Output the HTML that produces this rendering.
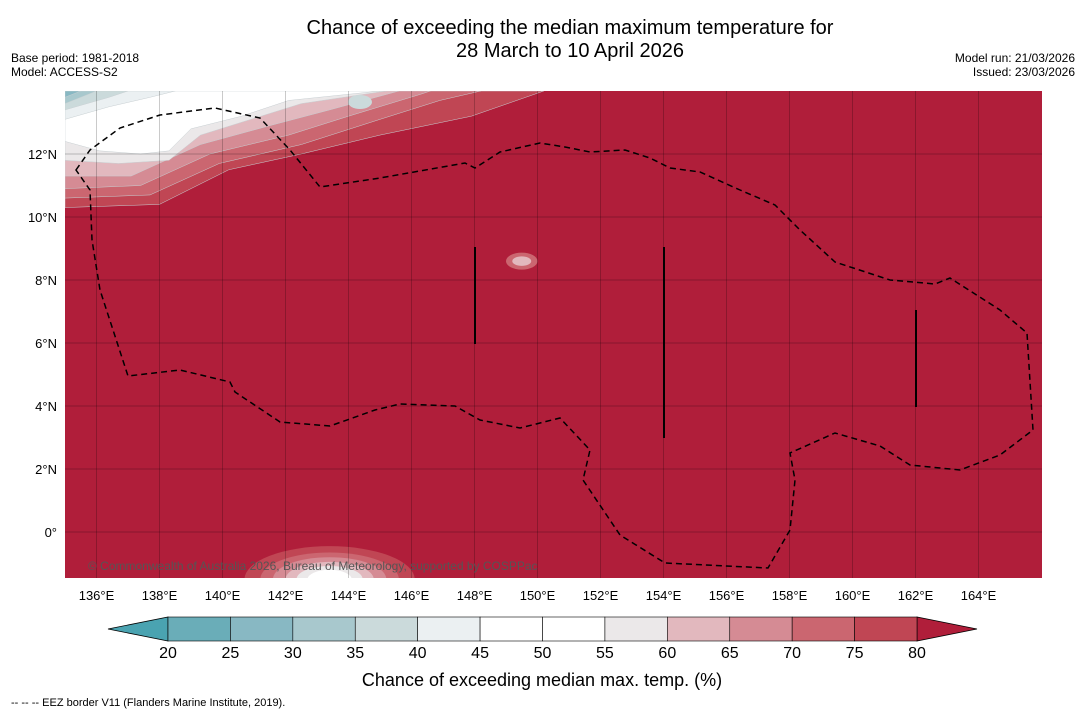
<!DOCTYPE html>
<html><head><meta charset="utf-8"><style>
body{margin:0;background:#fff;width:1085px;height:713px;overflow:hidden;font-family:"Liberation Sans","DejaVu Sans",sans-serif}
</style></head><body>
<svg id="chart" width="1085" height="713" xmlns="http://www.w3.org/2000/svg" font-family="Liberation Sans, DejaVu Sans, sans-serif">
<text x="570" y="34" font-size="20" text-anchor="middle">Chance of exceeding the median maximum temperature for</text>
<text x="570" y="57" font-size="20" text-anchor="middle">28 March to 10 April 2026</text>
<text x="11" y="62" font-size="12">Base period: 1981-2018</text>
<text x="11" y="76" font-size="12">Model: ACCESS-S2</text>
<text x="1075" y="62" font-size="12" text-anchor="end">Model run: 21/03/2026</text>
<text x="1075" y="76" font-size="12" text-anchor="end">Issued: 23/03/2026</text>
<defs><clipPath id="mapclip"><rect x="65" y="91" width="977" height="487"/></clipPath></defs>
<g id="map" clip-path="url(#mapclip)"></g>
<g id="axes"></g>
<g id="cbar"></g>
<text x="542" y="686" font-size="18" text-anchor="middle">Chance of exceeding median max. temp. (%)</text>
<text x="11" y="706" font-size="11">--  --  -- EEZ border V11 (Flanders Marine Institute, 2019).</text>
</svg>
<script>
const levels=[20,25,30,35,40,45,50,55,60,65,70,75,80];
const bandColors=["#6aadb8","#88b8c3","#a8c8cd","#cbdadb","#ebf0f2","#ffffff","#ffffff","#ebe8e9","#e2b8be","#d58b94","#cb6670","#c04654"];
const lonTicks=[136,138,140,142,144,146,148,150,152,154,156,158,160,162,164];
const latTicks=[0,2,4,6,8,10,12];
// top-left anomaly contours (lon,lat) ordered outer -> inner, with band index
const tlBands=[11,10,9,8,7,5,4,3,2,1];
const tlContours=[
[[135,10.3],[138,10.4],[140.2,11.5],[142.5,12],[145,12.6],[147.9,13.2],[150.2,14]],
[[135,10.6],[137.7,10.7],[139.9,11.7],[142.5,12.3],[145,13.1],[146.9,13.7],[148.2,14]],
[[135,10.9],[137.4,11],[139.6,12],[142.1,12.6],[144,13.2],[146.3,13.9],[146.6,14]],
[[135,11.3],[137.1,11.3],[139.3,12.3],[141.5,12.9],[143.4,13.4],[145.6,14]],
[[135,11.8],[136.7,11.7],[138.3,11.8],[139.3,12.6],[140.9,13.1],[142.5,13.6],[145.2,14]],
[[135,12.4],[136.1,12.1],[137.4,12],[138.3,12.1],[139,12.8],[140.6,13.2],[142.1,13.7],[145,14]],
[[135,13.1],[136.4,13.5],[137.7,13.8],[138.5,14]],
[[135,13.4],[136.4,13.8],[137,14]],
[[135,13.6],[136,14]],
[[135,13.8],[135.5,14]]
];
const blobCenters=[[143.4,-1.5],[149.5,8.6]];
const blobRadii=[[[2.7,1.05],[2.2,0.85],[1.8,0.7],[1.4,0.55],[1.05,0.42],[0.7,0.3]],[[0.5,0.27],[0.3,0.15]]];
const blobBands=[[11,10,9,8,7,5],[10,8]];
const X=lon=>65+(lon-135)*31.5;
const Y=lat=>91+(14-lat)*31.5;
const NS="http://www.w3.org/2000/svg";
function mk(t,a,p){const e=document.createElementNS(NS,t);for(const k in a)e.setAttribute(k,a[k]);p.appendChild(e);return e;}
const map=document.getElementById('map');
const bg=mk('rect',{x:65,y:91,width:977,height:487,fill:"#b01e3a"},map);


tlContours.forEach((c,i)=>{
 let d=`M${X(135)},${Y(14)} `+c.map(p=>`L${X(p[0])},${Y(p[1])}`).join(' ')+' Z';
 const e=mk('path',{d:d,fill:bandColors[tlBands[i]],stroke:"#c8cfd2","stroke-width":0.5,"stroke-linejoin":"round"},map);
 
 
});
blobCenters.forEach((c,i)=>{
 blobRadii[i].forEach((r,j)=>{
  const e=mk('ellipse',{cx:X(c[0]),cy:Y(c[1]),rx:r[0]*31.5,ry:r[1]*31.5,fill:bandColors[blobBands[i][j]]},map);
  
  
 });
});
const isl=mk('ellipse',{cx:360,cy:102,rx:12,ry:7,fill:"#cbdadb"},map);


const ax=document.getElementById('axes');
lonTicks.forEach(l=>{
 const g=mk('line',{x1:X(l),x2:X(l),y1:91,y2:578,stroke:"#000","stroke-opacity":0.3,"stroke-width":0.7},map);
 
 
 const t=mk('text',{x:X(l),y:600,"font-size":13,"text-anchor":"middle"},ax);t.textContent=l+"°E";
 
 
});
latTicks.forEach(l=>{
 const g=mk('line',{x1:65,x2:1042,y1:Y(l),y2:Y(l),stroke:"#000","stroke-opacity":0.3,"stroke-width":0.7},map);
 
 
 const t=mk('text',{x:57,y:Y(l)+5,"font-size":13,"text-anchor":"end"},ax);t.textContent=l===0?"0°":l+"°N";
 
 
});
const eez=mk('path',{d:"M76,170 L90,150 L120,128 L160,115 L215,108 L260,118 L290,150 L320,187 L380,178 L465,163 L475,168 L500,152 L540,143 L565,147 L590,152 L625,150 L650,158 L670,168 L700,172 L740,190 L775,205 L800,230 L835,262 L890,280 L935,284 L950,278 L1000,310 L1027,333 L1033,430 L1000,455 L960,470 L910,465 L880,446 L835,433 L790,453 L795,480 L790,530 L768,568 L665,563 L620,535 L583,480 L590,450 L560,418 L520,428 L480,420 L455,406 L400,404 L375,410 L330,426 L280,422 L235,392 L230,382 L180,370 L128,376 L100,290 L92,240 L90,190 Z",fill:"none",stroke:"#000","stroke-width":1.5,"stroke-dasharray":"6 4"},map);


[[475,247,344],[664,247,438],[916,310,407]].forEach(v=>{
 const l=mk('line',{x1:v[0],x2:v[0],y1:v[1],y2:v[2],stroke:"#000","stroke-width":2},map);
 
 
});
const cr=mk('text',{x:88,y:570,"font-size":12,fill:"#555"},map);cr.textContent="© Commonwealth of Australia 2026, Bureau of Meteorology, supported by COSPPac";


const cb=document.getElementById('cbar');
const cx0=168,cw=(917-168)/12,cy=617,ch=24;
const la=mk('polygon',{points:`108,629 ${cx0},${cy} ${cx0},${cy+ch}`,fill:"#4aa3b1",stroke:"#000","stroke-width":0.8},cb);


const ra=mk('polygon',{points:`977,629 917,${cy} 917,${cy+ch}`,fill:"#b01e3a",stroke:"#000","stroke-width":0.8},cb);


bandColors.forEach((c,i)=>{
 const r=mk('rect',{x:cx0+i*cw,y:cy,width:cw,height:ch,fill:c,stroke:"#000","stroke-width":0.6},cb);
 
 
});
levels.forEach((v,i)=>{
 const t=mk('text',{x:cx0+i*cw,y:658,"font-size":16,"text-anchor":"middle"},cb);t.textContent=v;
 
 
});
</script>
</body></html>
